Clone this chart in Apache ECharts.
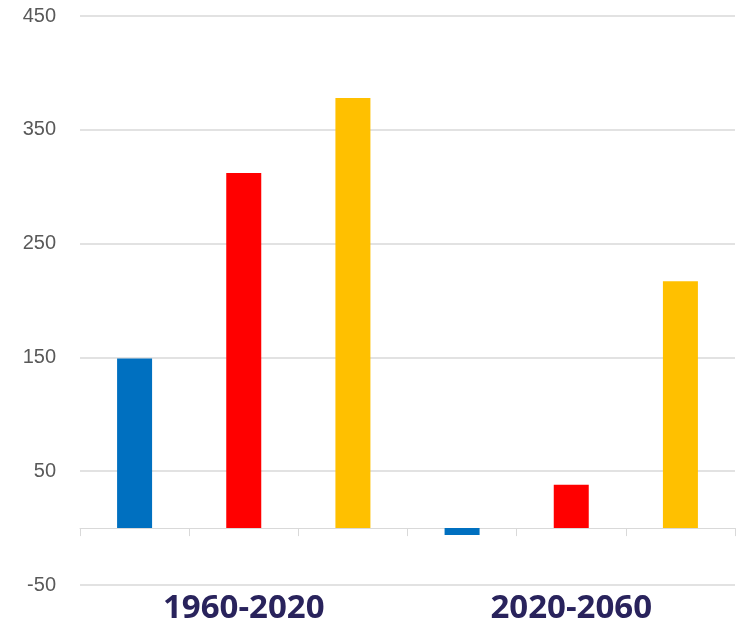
<!DOCTYPE html>
<html>
<head>
<meta charset="utf-8">
<script src="https://cdn.jsdelivr.net/npm/echarts@6/dist/echarts.min.js"></script>
<style>
  html, body { margin: 0; padding: 0; background: #fff; }
  #chart { width: 741px; height: 625px; }
</style>
</head>
<body>
<div id="chart"></div>
<script>
// data
const slots = ['a1', 'a2', 'a3', 'b1', 'b2', 'b3'];
const periods = ['1960-2020', '2020-2060'];
const values = [149, 312, 378, -6, 38, 217];
const barColors = ['#0070c0', '#ff0000', '#ffc000', '#0070c0', '#ff0000', '#ffc000'];

const chart = echarts.init(document.getElementById('chart'));

const option = {
  animation: false,
  grid: { left: 80, right: 6, top: 16, bottom: 40 },
  xAxis: [
    {
      type: 'category',
      data: slots,
      axisLine: { onZero: true, lineStyle: { color: '#d9d9d9', width: 1 } },
      axisTick: { show: true, length: 8, lineStyle: { color: '#d9d9d9' } },
      axisLabel: { show: false }
    },
    {
      type: 'category',
      data: periods,
      position: 'bottom',
      axisLine: { show: false, onZero: false },
      axisTick: { show: false },
      axisLabel: {
        margin: 7,
        fontFamily: 'Open Sans',
        fontWeight: 'bold',
        fontSize: 33,
        color: '#29235c'
      }
    }
  ],
  yAxis: {
    type: 'value',
    min: -50,
    max: 450,
    interval: 100,
    axisLine: { show: false },
    axisTick: { show: false },
    axisLabel: {
      margin: 24,
      fontFamily: 'Liberation Sans',
      fontSize: 20,
      color: '#595959'
    },
    splitLine: { lineStyle: { color: '#d9d9d9', width: 1.5 } }
  },
  series: [
    {
      type: 'bar',
      xAxisIndex: 0,
      barWidth: 35,
      data: values.map((v, i) => ({ value: v, itemStyle: { color: barColors[i] } }))
    }
  ]
};

chart.setOption(option);
</script>
</body>
</html>
